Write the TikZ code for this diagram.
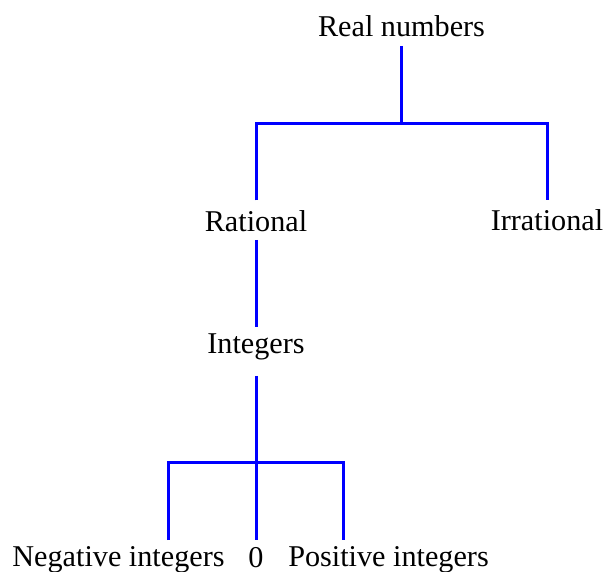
\documentclass[tikz,border=0pt]{standalone}
\usepackage{fontspec}
\setmainfont{Liberation Serif}
\begin{document}
\begin{tikzpicture}[x=1pt,y=-1pt,
  lbl/.style={anchor=base,inner sep=0pt,outer sep=0pt,font=\fontsize{30.2}{36}\selectfont},
  conn/.style={draw={rgb,255:red,0;green,0;blue,255},line width=3pt}]
\useasboundingbox (0,0) rectangle (606,572);
\node[lbl] (real) at (401.5,37) {Real numbers};
\node[lbl] (rat) at (256,231.5) {Rational};
\node[lbl] (irr) at (547,230.5) {Irrational};
\node[lbl] (int) at (256,354) {Integers};
\node[lbl] (neg) at (118.5,566) {Negative integers};
\node[lbl] (zero) at (256,567) {0};
\node[lbl] (pos) at (388.5,566) {Positive integers};
\coordinate (j1) at (401.5,123.3);
\coordinate (j2) at (256,463);
\coordinate (nl) at (168.3,540);
\coordinate (pl) at (343,540);
\draw[conn] ([yshift=-9pt]real.base) -- (j1);
\draw[conn] ([yshift=31pt]rat.base) |- (j1) -| ([yshift=30pt]irr.base);
\draw[conn] ([yshift=-8.5pt]rat.base) -- ([yshift=27pt]int.base);
\draw[conn] ([yshift=-22pt]int.base) -- ([yshift=27pt]zero.base);
\draw[conn] (nl) |- (j2) -| (pl);
\end{tikzpicture}
\end{document}
